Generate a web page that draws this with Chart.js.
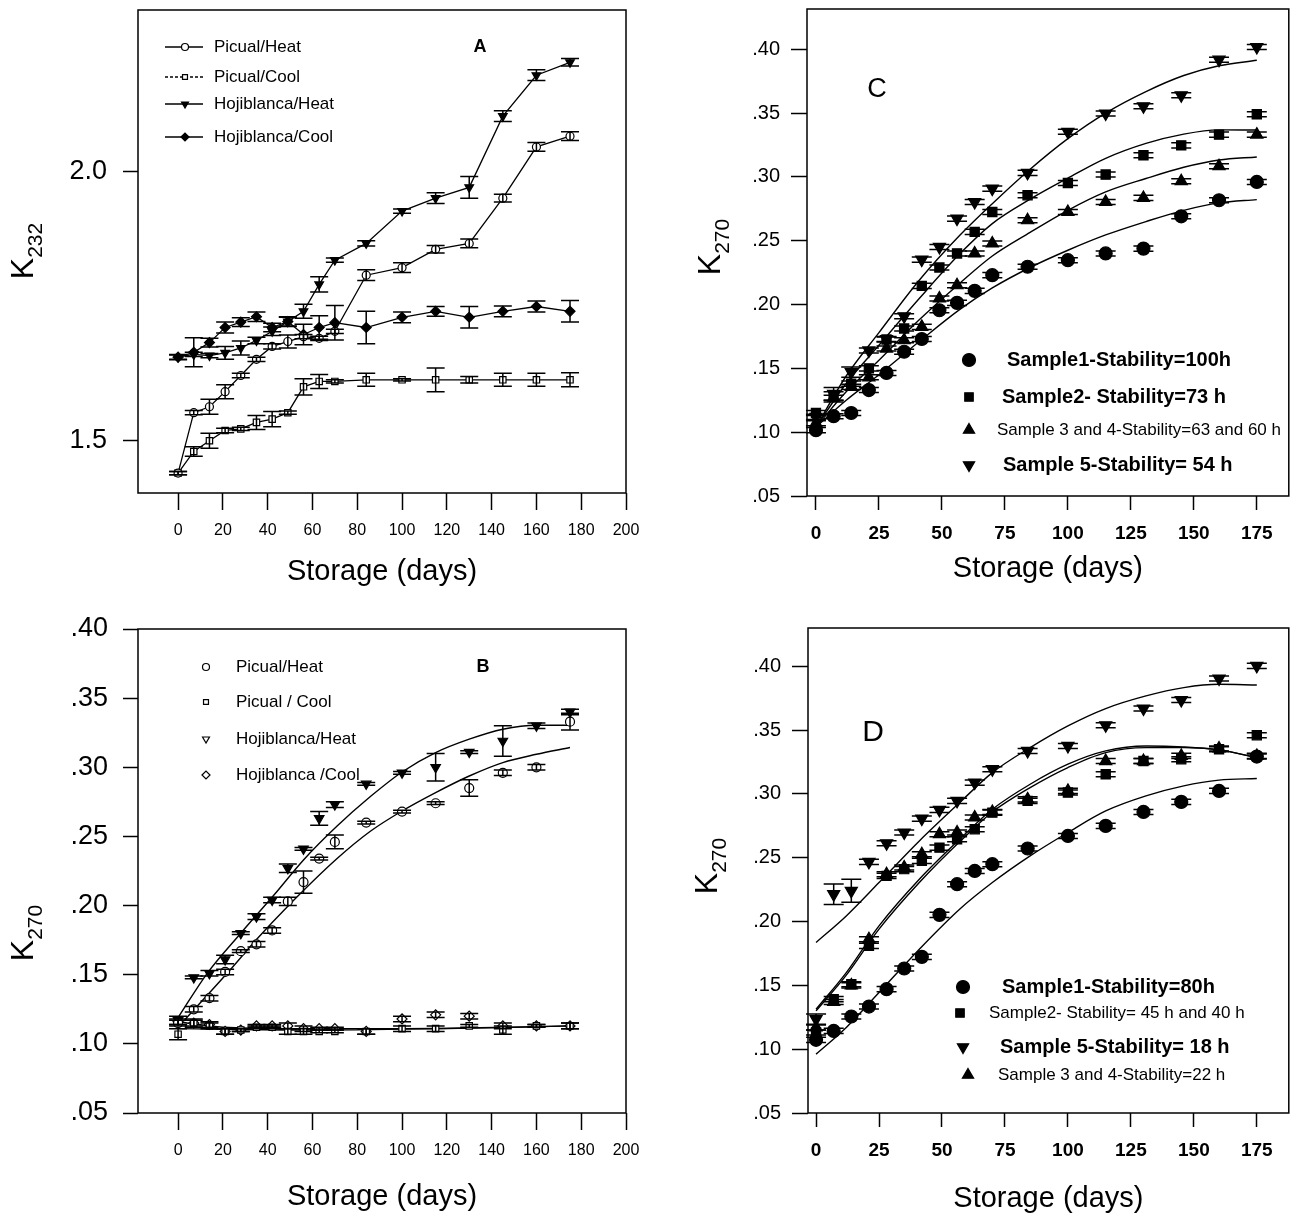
<!DOCTYPE html>
<html>
<head>
<meta charset="utf-8" />
<script src="https://cdn.jsdelivr.net/npm/chart.js@4.4.1/dist/chart.umd.min.js"></script>
<style>
  html, body { margin: 0; padding: 0; background: #fff; }
  #wrap { position: relative; width: 1297px; height: 1216px; }
  canvas { position: absolute; }
</style>
<title>K232 / K270 vs storage</title>
</head>
<body>
<div id="wrap">
  <canvas id="chartA" width="650" height="600" style="left:0px;top:0px"></canvas>
  <canvas id="chartB" width="650" height="616" style="left:0px;top:600px"></canvas>
  <canvas id="chartC" width="647" height="600" style="left:650px;top:0px"></canvas>
  <canvas id="chartD" width="647" height="616" style="left:650px;top:600px"></canvas>
</div>
<script>
// sampling days (same for every panel)
var DAYS = [0, 7, 14, 21, 28, 35, 42, 49, 56, 63, 70, 84, 100, 115, 130, 145, 160, 175];

// ---- panel A : K232
var A_PICUAL_HEAT = [1.44, 1.552, 1.563, 1.591, 1.621, 1.651, 1.675, 1.684, 1.693, 1.69, 1.703, 1.807, 1.821, 1.855, 1.866, 1.95, 2.045, 2.065];
var A_PICUAL_HEAT_ERR = [0.003, 0.004, 0.014, 0.013, 0.004, 0.004, 0.005, 0.012, 0.004, 0.004, 0.004, 0.01, 0.009, 0.007, 0.008, 0.007, 0.008, 0.008];
var A_PICUAL_COOL = [1.44, 1.48, 1.50, 1.519, 1.522, 1.534, 1.54, 1.552, 1.60, 1.61, 1.61, 1.613, 1.613, 1.613, 1.613, 1.613, 1.613, 1.613];
var A_PICUAL_COOL_ERR = [0.003, 0.009, 0.014, 0.004, 0.003, 0.013, 0.014, 0.003, 0.015, 0.013, 0.003, 0.012, 0.002, 0.022, 0.006, 0.012, 0.012, 0.013];
var A_HOJI_HEAT = [1.655, 1.66, 1.658, 1.663, 1.672, 1.686, 1.703, 1.721, 1.74, 1.79, 1.835, 1.866, 1.926, 1.95, 1.97, 2.102, 2.178, 2.202];
var A_HOJI_HEAT_ERR = [0.004, 0.004, 0.004, 0.012, 0.013, 0.006, 0.008, 0.009, 0.013, 0.014, 0.004, 0.005, 0.004, 0.01, 0.02, 0.01, 0.01, 0.007];
var A_HOJI_COOL = [1.655, 1.664, 1.682, 1.71, 1.72, 1.73, 1.71, 1.721, 1.697, 1.71, 1.719, 1.71, 1.729, 1.74, 1.729, 1.74, 1.749, 1.74];
var A_HOJI_COOL_ERR = [0.005, 0.027, 0.008, 0.01, 0.008, 0.009, 0.008, 0.008, 0.019, 0.022, 0.032, 0.03, 0.01, 0.009, 0.02, 0.01, 0.01, 0.02];

// ---- panel B : K270, same oils
var B_PICUAL_HEAT = [0.115, 0.125, 0.133, 0.152, 0.167, 0.172, 0.182, 0.203, 0.217, 0.234, 0.246, 0.260, 0.268, 0.274, 0.285, 0.296, 0.300, 0.333];
var B_PICUAL_HEAT_ERR = [0.002, 0.002, 0.002, 0.002, 0.001, 0.002, 0.002, 0.003, 0.008, 0.001, 0.005, 0.001, 0.001, 0.001, 0.006, 0.002, 0.002, 0.006];
var B_PICUAL_COOL = [0.107, 0.115, 0.113, 0.109, 0.110, 0.112, 0.112, 0.109, 0.109, 0.109, 0.109, 0.109, 0.111, 0.111, 0.113, 0.110, 0.113, 0.113];
var B_PICUAL_COOL_ERR = [0.004, 0.003, 0.002, 0.002, 0.001, 0.001, 0.001, 0.002, 0.002, 0.001, 0.001, 0.002, 0.002, 0.002, 0.001, 0.003, 0.001, 0.002];
var B_HOJI_HEAT = [0.117, 0.148, 0.151, 0.161, 0.180, 0.192, 0.204, 0.227, 0.241, 0.263, 0.273, 0.288, 0.296, 0.300, 0.311, 0.319, 0.330, 0.340];
var B_HOJI_HEAT_ERR = [0.003, 0.001, 0.002, 0.003, 0.001, 0.002, 0.002, 0.003, 0.001, 0.005, 0.002, 0.001, 0.001, 0.010, 0.001, 0.011, 0.002, 0.002];
var B_HOJI_COOL = [0.116, 0.115, 0.114, 0.109, 0.110, 0.113, 0.113, 0.113, 0.111, 0.111, 0.111, 0.109, 0.118, 0.121, 0.120, 0.113, 0.113, 0.113];
var B_HOJI_COOL_ERR = [0.002, 0.002, 0.002, 0.002, 0.001, 0.001, 0.001, 0.002, 0.002, 0.001, 0.001, 0.002, 0.002, 0.002, 0.002, 0.002, 0.001, 0.002];
// fitted curves
var B_FIT_HI_X = [0, 13, 28, 43, 56, 71, 86, 100, 115, 130, 145, 160, 175];
var B_FIT_HI_Y = [0.119, 0.151, 0.180, 0.208, 0.233, 0.2575, 0.279, 0.2966, 0.3106, 0.3203, 0.3275, 0.3304, 0.3304];
var B_FIT_LO_X = [3, 22, 35, 49, 71, 86, 100, 115, 130, 145, 160, 175];
var B_FIT_LO_Y = [0.1174, 0.1512, 0.1754, 0.1995, 0.234, 0.2539, 0.2684, 0.2817, 0.2937, 0.3034, 0.3094, 0.3143];
var B_FIT_COOL1_X = [0, 20, 50, 100, 150, 175];
var B_FIT_COOL1_Y = [0.116, 0.112, 0.111, 0.111, 0.112, 0.113];
var B_FIT_COOL2_X = [0, 60, 120, 175];
var B_FIT_COOL2_Y = [0.111, 0.110, 0.111, 0.113];

// ---- panel C : samples, stability 100/73/63-60/54 h
var C_S1 = [0.1016, 0.1125, 0.115, 0.133, 0.1464, 0.163, 0.173, 0.1955, 0.2013, 0.2107, 0.223, 0.2296, 0.2347, 0.24, 0.2438, 0.2691, 0.2817, 0.296];
var C_S2 = [0.115, 0.1277, 0.138, 0.150, 0.1726, 0.1812, 0.2146, 0.229, 0.240, 0.2569, 0.2725, 0.2856, 0.2952, 0.3018, 0.3169, 0.3247, 0.3331, 0.349];
var C_S34 = [0.107, 0.127, 0.1355, 0.143, 0.1655, 0.172, 0.1825, 0.2047, 0.2151, 0.240, 0.2478, 0.266, 0.2725, 0.2803, 0.2835, 0.2966, 0.3083, 0.3331];
var C_S5 = [0.112, 0.130, 0.147, 0.164, 0.173, 0.1908, 0.2352, 0.2451, 0.2673, 0.2803, 0.2908, 0.3031, 0.3353, 0.3496, 0.3553, 0.3639, 0.3918, 0.4017];
var C_S1_ERR = [0.002, 0.002, 0.002, 0.002, 0.002, 0.002, 0.002, 0.002, 0.002, 0.002, 0.002, 0.002, 0.002, 0.002, 0.002, 0.002, 0.002, 0.002];
var C_S2_ERR = [0.002, 0.004, 0.002, 0.002, 0.002, 0.002, 0.002, 0.002, 0.002, 0.002, 0.002, 0.002, 0.002, 0.002, 0.002, 0.002, 0.002, 0.002];
var C_S34_ERR = [0.002, 0.002, 0.002, 0.002, 0.002, 0.002, 0.002, 0.002, 0.002, 0.002, 0.002, 0.002, 0.002, 0.002, 0.002, 0.002, 0.002, 0.002];
var C_S5_ERR = [0.002, 0.005, 0.004, 0.002, 0.002, 0.002, 0.002, 0.002, 0.002, 0.002, 0.002, 0.002, 0.002, 0.002, 0.002, 0.002, 0.002, 0.002];
var FIT_X = [0, 12, 25, 41, 57, 70, 85, 100, 115, 131, 146, 160, 175];
var C_FIT_S5 = [0.104, 0.144, 0.178, 0.219, 0.254, 0.279, 0.306, 0.330, 0.350, 0.3668, 0.3794, 0.3870, 0.3913];
var C_FIT_S2 = [0.104, 0.1381, 0.1681, 0.2047, 0.2395, 0.2634, 0.2825, 0.2990, 0.3145, 0.3262, 0.3335, 0.3368, 0.3367];
var C_FIT_S34 = [0.104, 0.1316, 0.1564, 0.188, 0.2165, 0.238, 0.2565, 0.2738, 0.2882, 0.2987, 0.3075, 0.3132, 0.3156];
var C_FIT_S1 = [0.104, 0.125, 0.145, 0.171, 0.196, 0.213, 0.229, 0.2425, 0.2545, 0.265, 0.2738, 0.2796, 0.2822];

// ---- panel D : samples, stability 80/45-40/18/22 h
var D_S1 = [0.1073, 0.1143, 0.1256, 0.1334, 0.147, 0.1632, 0.1723, 0.2052, 0.2292, 0.2396, 0.2449, 0.2572, 0.267, 0.2749, 0.2858, 0.2937, 0.3023, 0.3292];
var D_S2 = [0.113, 0.1392, 0.1509, 0.1809, 0.2357, 0.241, 0.2475, 0.2579, 0.2644, 0.2723, 0.2853, 0.2945, 0.301, 0.3153, 0.3257, 0.3271, 0.3349, 0.3459];
var D_S5 = [0.1235, 0.2214, 0.224, 0.2467, 0.2613, 0.2697, 0.2806, 0.2874, 0.2945, 0.3088, 0.3193, 0.3336, 0.3375, 0.3537, 0.3668, 0.3735, 0.3903, 0.4002];
var D_S34 = [0.117, 0.137, 0.150, 0.1861, 0.237, 0.2423, 0.2527, 0.2684, 0.2697, 0.2815, 0.2858, 0.2957, 0.3023, 0.3257, 0.3257, 0.3297, 0.3355, 0.3297];
var D_S1_ERR = [0.002, 0.002, 0.002, 0.002, 0.002, 0.002, 0.002, 0.002, 0.002, 0.002, 0.002, 0.002, 0.002, 0.002, 0.002, 0.002, 0.002, 0.002];
var D_S2_ERR = [0.002, 0.002, 0.002, 0.002, 0.002, 0.002, 0.002, 0.002, 0.002, 0.002, 0.002, 0.002, 0.002, 0.002, 0.002, 0.002, 0.002, 0.002];
var D_S5_ERR = [0.004, 0.008, 0.009, 0.002, 0.002, 0.002, 0.002, 0.002, 0.002, 0.002, 0.002, 0.002, 0.002, 0.002, 0.002, 0.002, 0.002, 0.002];
var D_S34_ERR = [0.002, 0.002, 0.002, 0.002, 0.002, 0.002, 0.002, 0.002, 0.002, 0.002, 0.002, 0.002, 0.002, 0.002, 0.002, 0.002, 0.002, 0.002];
var D_FIT_S5 = [0.1836, 0.2044, 0.2305, 0.2631, 0.2931, 0.3166, 0.3362, 0.3532, 0.3668, 0.3767, 0.3832, 0.3858, 0.3853];
var D_FIT_S2 = [0.1313, 0.1600, 0.1966, 0.2331, 0.2644, 0.2879, 0.3075, 0.3232, 0.3336, 0.3375, 0.3367, 0.3344, 0.3284];
var D_FIT_S34 = [0.1300, 0.1580, 0.1940, 0.2305, 0.2624, 0.2858, 0.3049, 0.3206, 0.3323, 0.3362, 0.3362, 0.3344, 0.3284];
var D_FIT_S1 = [0.0961, 0.1170, 0.1444, 0.1783, 0.2096, 0.2305, 0.2514, 0.2697, 0.2866, 0.2984, 0.3062, 0.3107, 0.3120];

// tick labels
var X_TICKS_AB = [0, 20, 40, 60, 80, 100, 120, 140, 160, 180, 200];
var X_TICKS_CD = [0, 25, 50, 75, 100, 125, 150, 175];
var Y_TICKS_A = [1.5, 2.0];
var Y_TICKS_K270 = [0.05, 0.10, 0.15, 0.20, 0.25, 0.30, 0.35, 0.40];

var FAM = '"Liberation Sans", Arial, Helvetica, sans-serif';
Chart.defaults.font.family = FAM;
Chart.defaults.color = '#000';

function pts(xs, ys) {
    return xs.map(function (x, i) { return { x: x, y: ys[i] }; });
}

// markers only / connected / fitted curve
function marks(label, ys, errs, style, r, fill, rot) {
    return {
        label: label, data: pts(DAYS, ys), errors: errs, showLine: false,
        pointStyle: style, pointRadius: r, pointRotation: rot || 0,
        pointBackgroundColor: fill, pointBorderColor: '#000', pointBorderWidth: 1.2
    };
}
function fitLine(xs, ys) {
    return {
        label: 'fit', data: pts(xs, ys), showLine: true, pointRadius: 0,
        borderColor: '#000', borderWidth: 1.4, cubicInterpolationMode: 'monotone', fill: false
    };
}

// vertical error bars with caps, through the chart's own scales
var errorBars = {
    id: 'errorBars',
    afterDatasetsDraw: function (chart) {
        var ctx = chart.ctx, xs = chart.scales.x, ys = chart.scales.y;
        var cap = chart.options.capHalf || 9;
        ctx.save();
        ctx.strokeStyle = '#000';
        ctx.lineWidth = 1.5;
        chart.data.datasets.forEach(function (ds) {
            if (!ds.errors) return;
            ds.data.forEach(function (p, i) {
                var e = ds.errors[i];
                if (!e) return;
                var px = xs.getPixelForValue(p.x);
                var t = ys.getPixelForValue(p.y + e), b = ys.getPixelForValue(p.y - e);
                ctx.beginPath();
                ctx.moveTo(px, t); ctx.lineTo(px, b);
                ctx.moveTo(px - cap, t); ctx.lineTo(px + cap, t);
                ctx.moveTo(px - cap, b); ctx.lineTo(px + cap, b);
                ctx.stroke();
            });
        });
        ctx.restore();
    }
};

// closed frame around the plot
var frame = {
    id: 'frame',
    afterDraw: function (chart) {
        var a = chart.chartArea, ctx = chart.ctx;
        ctx.save();
        ctx.strokeStyle = '#000';
        ctx.lineWidth = 1.5;
        ctx.strokeRect(a.left, a.top, a.right - a.left, a.bottom - a.top);
        ctx.restore();
    }
};

// y title with subscript, panel letter and in-plot key
function annotate(spec) {
    return {
        id: 'annot',
        afterDraw: function (chart) {
            var ctx = chart.ctx;
            var k = spec.k;
            ctx.save();
            ctx.fillStyle = '#000';
            ctx.translate(k.x, k.y);
            ctx.rotate(-Math.PI / 2);
            ctx.textAlign = 'left';
            ctx.textBaseline = 'alphabetic';
            ctx.font = '32px ' + FAM;
            var wK = ctx.measureText('K').width;
            ctx.font = '21px ' + FAM;
            var wS = ctx.measureText(k.sub).width;
            var x0 = -(wK + wS) / 2;
            ctx.font = '32px ' + FAM;
            ctx.fillText('K', x0, 0);
            ctx.font = '21px ' + FAM;
            ctx.fillText(k.sub, x0 + wK, 9);
            ctx.restore();

            ctx.save();
            ctx.fillStyle = '#000';
            ctx.textAlign = 'center';
            ctx.textBaseline = 'middle';
            ctx.font = spec.letter.font + ' ' + FAM;
            ctx.fillText(spec.letter.text, spec.letter.x, spec.letter.y);

            ctx.textAlign = 'left';
            spec.items.forEach(function (it) {
                ctx.strokeStyle = '#000';
                if (it.line) {
                    ctx.lineWidth = 1.3;
                    ctx.setLineDash(it.dash || []);
                    ctx.beginPath();
                    ctx.moveTo(it.line[0], it.y);
                    ctx.lineTo(it.line[1], it.y);
                    ctx.stroke();
                    ctx.setLineDash([]);
                }
                ctx.fillStyle = it.fill;
                ctx.lineWidth = 1.2;
                Chart.helpers.drawPoint(ctx, { pointStyle: it.style, radius: it.r, rotation: it.rot || 0, borderWidth: 1.2 }, it.mx, it.y);
                ctx.fillStyle = '#000';
                ctx.font = it.font + ' ' + FAM;
                ctx.fillText(it.text, it.tx, it.y);
            });
            ctx.restore();
        }
    };
}

function makePanel(id, p) {
    return new Chart(document.getElementById(id), {
        type: 'scatter',
        data: { datasets: p.datasets },
        options: {
            responsive: false,
            animation: false,
            capHalf: p.cap,
            layout: { padding: { left: 0, top: p.padTop, right: p.padRight, bottom: 0 } },
            plugins: { legend: { display: false }, tooltip: { enabled: false } },
            scales: {
                x: {
                    type: 'linear', min: p.xMin, max: p.xMax,
                    afterBuildTicks: function (s) { s.ticks = p.xTicks.map(function (v) { return { value: v }; }); },
                    afterFit: function (s) { s.height = p.xH; s.paddingLeft = 0; s.paddingRight = 0; },
                    border: { display: false },
                    grid: { drawOnChartArea: false, drawTicks: true, tickLength: p.xTickLen, tickColor: '#000', tickWidth: 1.5 },
                    ticks: { autoSkip: false, maxRotation: 0, padding: p.xPad, font: p.xFont, color: '#000',
                             callback: function (v) { return String(v); } },
                    title: { display: true, text: 'Storage (days)', color: '#000',
                             font: { size: 29, lineHeight: 1.2 }, padding: { top: 0, bottom: p.titlePad } }
                },
                y: {
                    type: 'linear', min: p.yMin, max: p.yMax,
                    afterBuildTicks: function (s) { s.ticks = p.yTicks.map(function (v) { return { value: v }; }); },
                    afterFit: function (s) { s.width = p.yW; s.paddingTop = 0; s.paddingBottom = 0; },
                    border: { display: false },
                    grid: { drawOnChartArea: false, drawTicks: true, tickLength: p.yTickLen, tickColor: '#000', tickWidth: 1.5 },
                    ticks: { padding: p.yPad, font: p.yFont, color: '#000', callback: p.yFmt }
                }
            }
        },
        plugins: [errorBars, frame, annotate(p.text)]
    });
}

function fmtK270(v) { return v.toFixed(2).replace(/^0/, ''); }

// ---------- A
var aSets = [
    marks('Picual/Heat', A_PICUAL_HEAT, A_PICUAL_HEAT_ERR, 'circle', 4, '#fff'),
    marks('Picual/Cool', A_PICUAL_COOL, A_PICUAL_COOL_ERR, 'rect', 4.5, '#fff'),
    marks('Hojiblanca/Heat', A_HOJI_HEAT, A_HOJI_HEAT_ERR, 'triangle', 5, '#000', 180),
    marks('Hojiblanca/Cool', A_HOJI_COOL, A_HOJI_COOL_ERR, 'rectRot', 5, '#000')
];
aSets.forEach(function (d) { d.showLine = true; d.borderColor = '#000'; d.borderWidth = 1.3; d.tension = 0; });

makePanel('chartA', {
    datasets: aSets, cap: 9,
    padTop: 10, padRight: 24, yW: 138, xH: 107,
    xMin: -17.9, xMax: 200, xTicks: X_TICKS_AB, xTickLen: 17, xPad: 11, xFont: { size: 16 }, titlePad: 11,
    yMin: 1.403, yMax: 2.299, yTicks: Y_TICKS_A, yTickLen: 15, yPad: 16, yFont: { size: 27 },
    yFmt: function (v) { return v.toFixed(1); },
    text: {
        k: { x: 33, y: 251, sub: '232' },
        letter: { text: 'A', x: 480, y: 47, font: 'bold 18px' },
        items: [
            { text: 'Picual/Heat', y: 47, line: [165, 203], mx: 185, tx: 214, style: 'circle', r: 3.5, fill: '#fff', font: '17px' },
            { text: 'Picual/Cool', y: 77, line: [165, 203], dash: [3, 2], mx: 185, tx: 214, style: 'rect', r: 3.5, fill: '#fff', font: '17px' },
            { text: 'Hojiblanca/Heat', y: 104, line: [165, 203], mx: 185, tx: 214, style: 'triangle', rot: 180, r: 4, fill: '#000', font: '17px' },
            { text: 'Hojiblanca/Cool', y: 137, line: [165, 203], mx: 185, tx: 214, style: 'rectRot', r: 4, fill: '#000', font: '17px' }
        ]
    }
});

// ---------- B
makePanel('chartB', {
    datasets: [
        marks('Picual/Heat', B_PICUAL_HEAT, B_PICUAL_HEAT_ERR, 'circle', 4.5, '#fff'),
        marks('Picual / Cool', B_PICUAL_COOL, B_PICUAL_COOL_ERR, 'rect', 4.5, '#fff'),
        marks('Hojiblanca/Heat', B_HOJI_HEAT, B_HOJI_HEAT_ERR, 'triangle', 5.5, '#000', 180),
        marks('Hojiblanca /Cool', B_HOJI_COOL, B_HOJI_COOL_ERR, 'rectRot', 5, '#fff'),
        fitLine(B_FIT_HI_X, B_FIT_HI_Y),
        fitLine(B_FIT_LO_X, B_FIT_LO_Y),
        fitLine(B_FIT_COOL1_X, B_FIT_COOL1_Y),
        fitLine(B_FIT_COOL2_X, B_FIT_COOL2_Y)
    ],
    cap: 9,
    padTop: 29, padRight: 24, yW: 138, xH: 103,
    xMin: -17.9, xMax: 200, xTicks: X_TICKS_AB, xTickLen: 17, xPad: 11, xFont: { size: 16 }, titlePad: 2,
    yMin: 0.05, yMax: 0.40, yTicks: Y_TICKS_K270, yTickLen: 15, yPad: 15, yFont: { size: 27 },
    yFmt: fmtK270,
    text: {
        k: { x: 33, y: 333, sub: '270' },
        letter: { text: 'B', x: 483, y: 67, font: 'bold 18px' },
        items: [
            { text: 'Picual/Heat', y: 67, mx: 206, tx: 236, style: 'circle', r: 3.5, fill: '#fff', font: '17px' },
            { text: 'Picual / Cool', y: 102, mx: 206, tx: 236, style: 'rect', r: 3.5, fill: '#fff', font: '17px' },
            { text: 'Hojiblanca/Heat', y: 139, mx: 206, tx: 236, style: 'triangle', rot: 180, r: 4, fill: '#fff', font: '17px' },
            { text: 'Hojiblanca /Cool', y: 175, mx: 206, tx: 236, style: 'rectRot', r: 4, fill: '#fff', font: '17px' }
        ]
    }
});

// ---------- C
makePanel('chartC', {
    datasets: [
        marks('Sample1', C_S1, C_S1_ERR, 'circle', 6.5, '#000'),
        marks('Sample2', C_S2, C_S2_ERR, 'rect', 6.5, '#000'),
        marks('Sample 3 and 4', C_S34, C_S34_ERR, 'triangle', 7, '#000'),
        marks('Sample 5', C_S5, C_S5_ERR, 'triangle', 7, '#000', 180),
        fitLine(FIT_X, C_FIT_S5),
        fitLine(FIT_X, C_FIT_S2),
        fitLine(FIT_X, C_FIT_S34),
        fitLine(FIT_X, C_FIT_S1)
    ],
    cap: 10,
    padTop: 9, padRight: 7, yW: 157, xH: 104,
    xMin: -3.56, xMax: 187.7, xTicks: X_TICKS_CD, xTickLen: 14, xPad: 12, xFont: { size: 19, weight: 'bold' }, titlePad: 14,
    yMin: 0.05, yMax: 0.4315, yTicks: Y_TICKS_K270, yTickLen: 16, yPad: 11, yFont: { size: 20 },
    yFmt: fmtK270,
    text: {
        k: { x: 70, y: 247, sub: '270' },
        letter: { text: 'C', x: 227, y: 90, font: '27px' },
        items: [
            { text: 'Sample1-Stability=100h', y: 360, mx: 319, tx: 357, style: 'circle', r: 6.5, fill: '#000', font: 'bold 20px' },
            { text: 'Sample2- Stability=73 h', y: 397, mx: 319, tx: 352, style: 'rect', r: 6, fill: '#000', font: 'bold 20px' },
            { text: 'Sample 3 and 4-Stability=63 and 60 h', y: 430, mx: 319, tx: 347, style: 'triangle', r: 6.5, fill: '#000', font: '17px' },
            { text: 'Sample 5-Stability= 54 h', y: 465, mx: 319, tx: 353, style: 'triangle', rot: 180, r: 6.5, fill: '#000', font: 'bold 20px' }
        ]
    }
});

// ---------- D
makePanel('chartD', {
    datasets: [
        marks('Sample1', D_S1, D_S1_ERR, 'circle', 6.5, '#000'),
        marks('Sample2', D_S2, D_S2_ERR, 'rect', 6.5, '#000'),
        marks('Sample 5', D_S5, D_S5_ERR, 'triangle', 7, '#000', 180),
        marks('Sample 3 and 4', D_S34, D_S34_ERR, 'triangle', 7, '#000'),
        fitLine(FIT_X, D_FIT_S5),
        fitLine(FIT_X, D_FIT_S2),
        fitLine(FIT_X, D_FIT_S34),
        fitLine(FIT_X, D_FIT_S1)
    ],
    cap: 10,
    padTop: 28, padRight: 7, yW: 158, xH: 103,
    xMin: -3.2, xMax: 187.7, xTicks: X_TICKS_CD, xTickLen: 14, xPad: 12, xFont: { size: 19, weight: 'bold' }, titlePad: 0,
    yMin: 0.05, yMax: 0.4299, yTicks: Y_TICKS_K270, yTickLen: 16, yPad: 11, yFont: { size: 20 },
    yFmt: fmtK270,
    text: {
        k: { x: 67, y: 266, sub: '270' },
        letter: { text: 'D', x: 223, y: 133, font: '30px' },
        items: [
            { text: 'Sample1-Stability=80h', y: 387, mx: 313, tx: 352, style: 'circle', r: 6.5, fill: '#000', font: 'bold 20px' },
            { text: 'Sample2- Stability= 45 h and 40 h', y: 413, mx: 310, tx: 339, style: 'rect', r: 6, fill: '#000', font: '17px' },
            { text: 'Sample 5-Stability= 18 h', y: 447, mx: 313, tx: 350, style: 'triangle', rot: 180, r: 6.5, fill: '#000', font: 'bold 20px' },
            { text: 'Sample 3 and 4-Stability=22 h', y: 475, mx: 318, tx: 348, style: 'triangle', r: 6.5, fill: '#000', font: '17px' }
        ]
    }
});
</script>
</body>
</html>
